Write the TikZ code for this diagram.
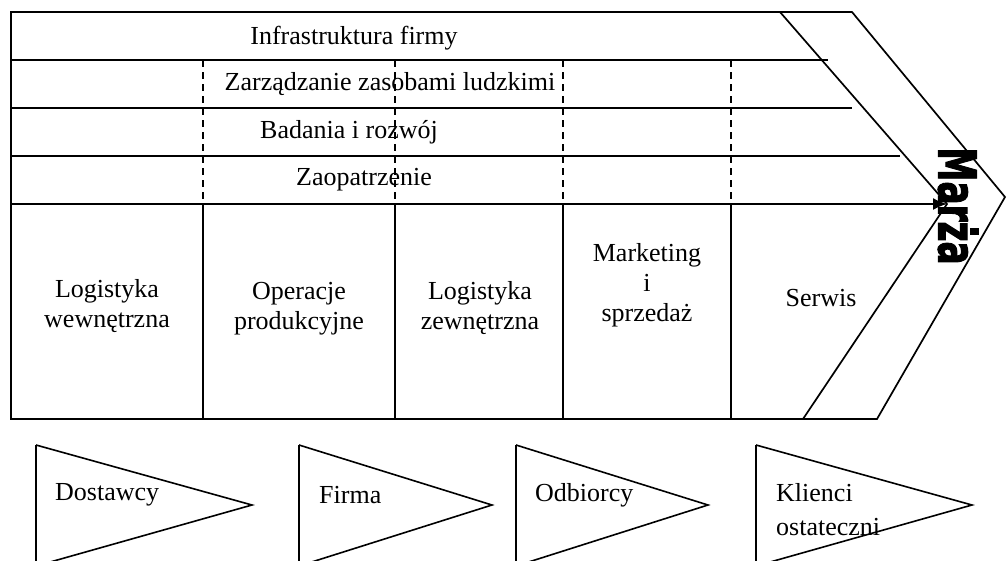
\documentclass[tikz,border=0pt]{standalone}
\usepackage{fontspec}
\setmainfont{Liberation Serif}
\newfontfamily\marzafont{DejaVu Sans}[BoldFeatures={FakeBold=2.5}]
\usetikzlibrary{arrows.meta}

\begin{document}
\begin{tikzpicture}[
        x=1pt, y=-1pt,
        frame/.style={draw, line width=1.7pt},
        divider/.style={draw, line width=1.5pt},
        sepdash/.style={draw, line width=1.4pt, dash pattern=on 7pt off 5pt},
        activity/.style={font=\fontsize{26}{30}\selectfont, align=center, inner sep=0pt},
        flow/.style={draw, line width=1.6pt},
        partner/.style={font=\fontsize{26}{34}\selectfont, align=left, anchor=west, inner sep=0pt},
        arrow/.style={-{Latex[length=14pt, width=12pt]}, line width=1.6pt}
    ]
        \useasboundingbox (0,0) rectangle (1007,560);
        \clip (0,0) rectangle (1007,560);

        % Outer frame with the margin chevron
        \draw[frame] (11,12) -- (852,12) -- (1005,197) -- (877,419) -- (11,419) -- cycle;
        \draw[frame] (780,12) -- (947,204) -- (803,419);

        % Support activities
        \draw[divider] (11,60) -- (828,60);
        \draw[divider] (11,108) -- (852,108);
        \draw[divider] (11,156) -- (900,156);
        \coordinate (start) at (11,204);
        \coordinate (tip) at (947,204);
        \draw[arrow] (start) -- (tip);

        \node[activity] (infra) at (354,38) {Infrastruktura firmy};
        \node[activity] (hr) at (390,84) {Zarządzanie zasobami ludzkimi};
        \node[activity] (rd) at (349,132) {Badania i rozwój};
        \node[activity] (supply) at (364,180) {Zaopatrzenie};

        % Column borders
        \foreach \x in {203,395,563,731} {
            \draw[sepdash] (\x,60) -- (\x,204);
            \draw[divider] (\x,204) -- (\x,419);
        }

        % Primary activities
        \node[activity] (inlog) at (107,306) {Logistyka\\wewnętrzna};
        \node[activity] (ops) at (299,309) {Operacje\\produkcyjne};
        \node[activity] (outlog) at (480,308) {Logistyka\\zewnętrzna};
        \node[activity] (sales) at (647,285) {Marketing\\i\\sprzedaż};
        \node[activity] (service) at (821,298) {Serwis};

        % Margin
        \node[rotate=-90, inner sep=0pt] (marza) at (958,206)
            {\scalebox{0.66}[1]{\marzafont\bfseries\fontsize{52}{52}\selectfont Marża}};

        % Value system
        \foreach \l/\w in {36/216, 299/193, 516/192, 756/216} {
            \draw[flow] (\l,445) -- (\l+\w,505) -- (\l,566);
            \draw[flow] (\l,445) -- (\l,566);
        }
        \node[partner] (suppliers) at (55,495) {Dostawcy};
        \node[partner] (company) at (319,495) {Firma};
        \node[partner] (buyers) at (535,495) {Odbiorcy};
        \node[partner] (clients) at (776,510) {Klienci\\ostateczni};
    \end{tikzpicture}
\end{document}
